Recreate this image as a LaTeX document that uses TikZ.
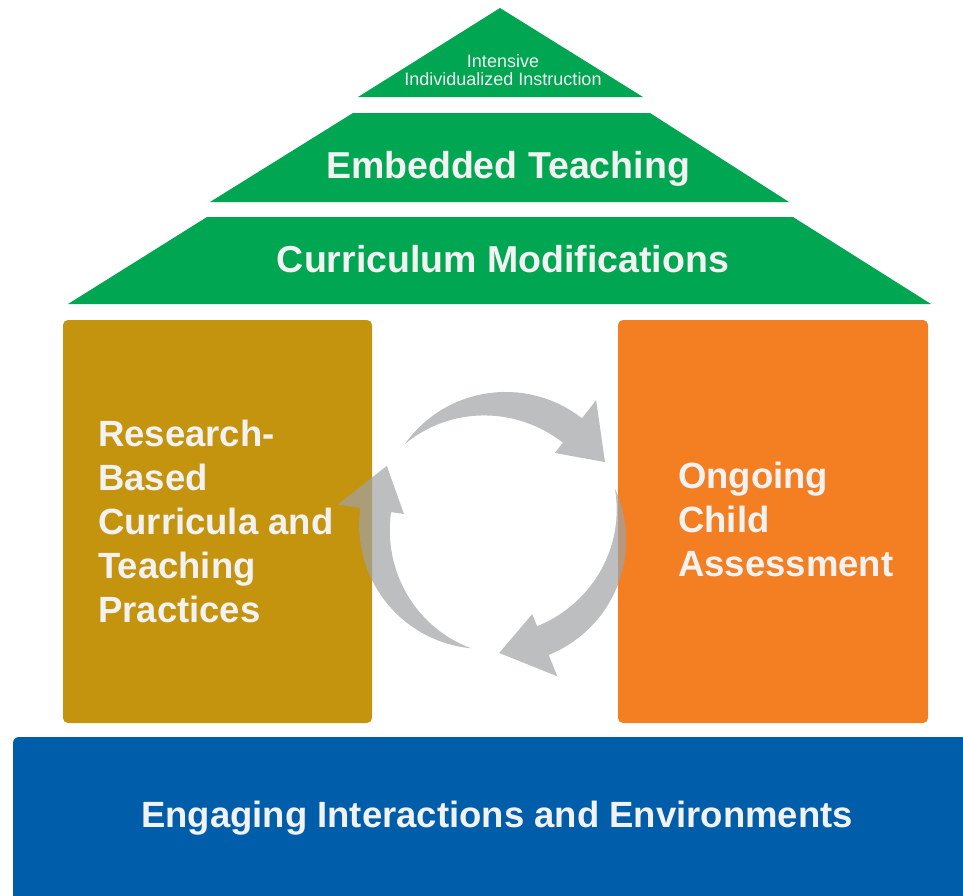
\documentclass[tikz,border=0pt]{standalone}
\usepackage{fontspec}
\setmainfont{Liberation Sans}
\usetikzlibrary{positioning}
\definecolor{layergreen}{RGB}{0, 166, 81}
\definecolor{boxgold}{RGB}{196, 148, 14}
\definecolor{boxorange}{RGB}{243, 127, 34}
\definecolor{basenavy}{RGB}{0, 93, 170}
\definecolor{cyclegray}{RGB}{160, 162, 165}
\definecolor{labelwhite}{RGB}{242, 242, 242}

\tikzset{
  layer/.style={fill=layergreen},
  pillar/.style={rounded corners=5pt},
  bigtext/.style={text=labelwhite, inner sep=0pt, font=\fontsize{36.5}{44}\selectfont\bfseries},
  cyclearrow/.style={fill=cyclegray, fill opacity=0.7},
}

\begin{document}
\begin{tikzpicture}[x=1pt, y=-1pt]
  \useasboundingbox (0,0) rectangle (963,895);

  % Roof
  \fill[layer] (500,8) -- (643,97) -- (358,97) -- cycle;
  \fill[layer] (353,113) -- (650,113) -- (789,202) -- (210,202) -- cycle;
  \fill[layer] (207,217) -- (793,217) -- (931,304) -- (68,304) -- cycle;

  % Pillars and base
  \fill[boxgold, pillar] (63,320) rectangle (372,723);
  \fill[boxorange, pillar] (618,320) rectangle (928,723);
  \fill[basenavy, rounded corners=6pt] (13,737) rectangle (980,910);

  % Cycle
  \begin{scope}[shift={(497,527)}, yscale=-1]
    \foreach \rot in {0,-120,-240} {
      \fill[cyclearrow, rotate=\rot]
        plot[domain=138:52, samples=30] (\x:{124+14*sin((138-\x)/86*90)})
        -- (52:161) -- (31:126) -- (52:94)
        -- plot[domain=52:138, samples=30] (\x:{124-17*sin((138-\x)/86*90)}) -- cycle;
    }
  \end{scope}

  % Labels
  \node[text=labelwhite, align=center, font=\fontsize{18}{18}\selectfont] (intensive) at (503,70) {Intensive\\Individualized Instruction};
  \node[bigtext, anchor=base, font=\fontsize{37.5}{44}\selectfont\bfseries] (embedded) at (508,178) {Embedded Teaching};
  \node[bigtext, anchor=base, font=\fontsize{37.5}{44}\selectfont\bfseries] (modifications) at (503,272) {Curriculum Modifications};
  \node[bigtext, anchor=north west, align=left] (research) at (98,420) {Research-\\Based\\Curricula and\\Teaching\\Practices};
  \node[bigtext, anchor=north west, align=left] (ongoing) at (678,462) {Ongoing\\Child\\Assessment};
  \node[bigtext, anchor=base] (engaging) at (497,827) {Engaging Interactions and Environments};
\end{tikzpicture}
\end{document}
